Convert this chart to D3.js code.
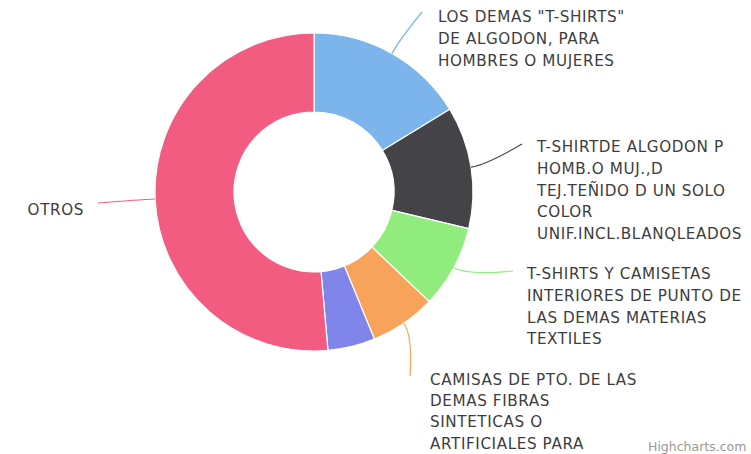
<!DOCTYPE html>
<html><head><meta charset="utf-8">
<script src="https://cdn.jsdelivr.net/npm/d3@7"></script>
<style>html,body{margin:0;padding:0;background:#fff;}svg{display:block;}</style>
</head><body><svg id="c" width="751" height="454"></svg>
<script>
const categories = [
  ["LOS DEMAS \"T-SHIRTS\"", "DE ALGODON, PARA", "HOMBRES O MUJERES"],
  ["T-SHIRTDE ALGODON P", "HOMB.O MUJ.,D", "TEJ.TEÑIDO D UN SOLO", "COLOR", "UNIF.INCL.BLANQLEADOS"],
  ["T-SHIRTS Y CAMISETAS", "INTERIORES DE PUNTO DE", "LAS DEMAS MATERIAS", "TEXTILES"],
  ["CAMISAS DE PTO. DE LAS", "DEMAS FIBRAS", "SINTETICAS O", "ARTIFICIALES PARA"],
  [],
  ["OTROS"]
];
const values = [16.3, 12.4, 8.4, 6.7, 4.8, 51.4];
const colors = ["#7cb5ec", "#434348", "#90ed7d", "#f7a35c", "#8085e9", "#f15c80"];

const svg = d3.select("#c");
const cx = 314, cy = 192, R = 159, r = 80;
const g = svg.append("g").attr("transform", `translate(${cx},${cy})`);
const pie = d3.pie().sort(null).value(d => d)(values);
const arc = d3.arc().innerRadius(r).outerRadius(R);

g.selectAll("path.slice").data(pie).join("path")
  .attr("class", "slice")
  .attr("d", arc)
  .attr("fill", (d, i) => colors[i])
  .attr("stroke", "#fff").attr("stroke-width", 1.2).attr("stroke-linejoin", "round");

// label layout (absolute positions of label blocks and connector ends)
const labelLayout = [
  {x: 438, y: 17, anchor: "start", end: [422, 12], lh: 21.8},
  {x: 537, y: 147, anchor: "start", end: [522, 144], lh: 21.8},
  {x: 527, y: 274, anchor: "start", end: [513, 271], lh: 21.8},
  {x: 430, y: 380, anchor: "start", end: [410, 376], lh: 21.2},
  null,
  {x: 84, y: 210, anchor: "end", end: [98, 203], lh: 21.8}
];

pie.forEach((d, i) => {
  const L = labelLayout[i];
  if (!L) return;
  const a = (d.startAngle + d.endAngle) / 2;
  const sx = Math.sin(a) * R, sy = -Math.cos(a) * R;
  const ex = L.end[0] - cx, ey = L.end[1] - cy;
  const kx = Math.sin(a) * (R + 16), ky = -Math.cos(a) * (R + 16);
  const p = d3.path();
  p.moveTo(sx, sy);
  p.quadraticCurveTo(kx, ky, ex, ey);
  g.append("path").attr("d", p.toString()).attr("fill", "none")
    .attr("stroke", colors[i]).attr("stroke-width", 1.2);
  const t = svg.append("text")
    .attr("x", L.x).attr("y", L.y)
    .attr("text-anchor", L.anchor)
    .attr("font-family", "'DejaVu Sans', sans-serif")
    .attr("font-size", 15.2)
    .attr("letter-spacing", 0.6)
    .attr("fill", "#3d3d3d")
    .attr("dominant-baseline", "central");
  categories[i].forEach((line, j) => {
    t.append("tspan").attr("x", L.x).attr("y", L.y + j * L.lh).text(line);
  });
});

svg.append("text").attr("x", 648).attr("y", 446).attr("text-anchor", "start")
  .attr("font-family", "'DejaVu Sans', sans-serif").attr("font-size", 12.5)
  .attr("fill", "#999").attr("dominant-baseline", "central").text("Highcharts.com");
</script></body></html>
